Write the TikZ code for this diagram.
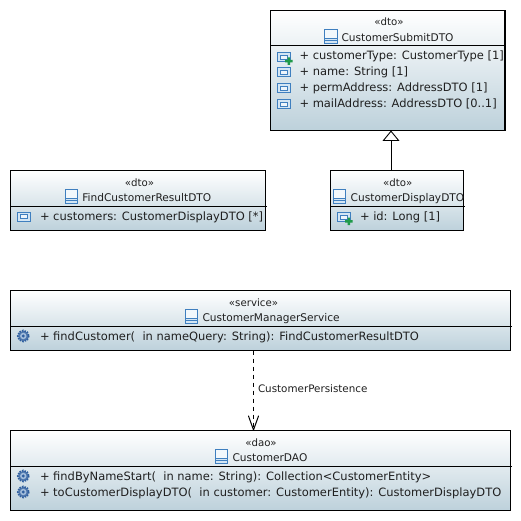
\documentclass[tikz,border=0pt]{standalone}
\usepackage{fontspec}
\setmainfont{DejaVu Sans}
\usetikzlibrary{arrows.meta,calc}
\definecolor{boxbottom}{HTML}{BDD1DB}
\definecolor{iconblue}{HTML}{3F7FBF}
\definecolor{iconfill}{HTML}{D4E6F4}
\definecolor{gearblue}{HTML}{2F5F9F}
\definecolor{plusgreen}{HTML}{1F9A4A}
\tikzset{
  umlbox/.style={draw=black,line width=1.2pt,top color=white,bottom color=boxbottom,inner sep=0pt,outer sep=0pt},
  divider/.style={draw=black,line width=1pt},
  txt/.style={anchor=base west,inner sep=0pt,outer sep=0pt,text=black!88,font=\fontsize{11.47}{13}\selectfont},
  ctxt/.style={anchor=base,inner sep=0pt,outer sep=0pt,text=black!88,font=\fontsize{10.2}{13}\selectfont},
  ntxt/.style={anchor=base west,inner sep=0pt,outer sep=0pt,text=black!88,font=\fontsize{10.6}{13}\selectfont},
  classicon/.pic={
    \draw[iconblue,line width=.9pt,fill=white!70!iconfill] (0,0) rectangle (12.5,14.5);
    \fill[iconfill] (0.5,9) rectangle (12,14);
    \draw[iconblue,line width=.9pt] (0,9) -- (12.5,9) (0,11.8) -- (12.5,11.8);
  },
  attricon/.pic={
    \draw[iconblue,line width=1pt,fill=iconfill] (0,0) rectangle (12.5,9);
    \draw[iconblue,line width=.7pt,fill=white!60!iconfill] (2.5,2.5) rectangle (10,6.5);
  },
  plusattricon/.pic={
    \draw[iconblue,line width=1pt,fill=iconfill] (0,0) rectangle (12.5,9);
    \draw[iconblue,line width=.7pt,fill=white!60!iconfill] (2.5,2.5) rectangle (10,6.5);
    \fill[plusgreen] (10,5) rectangle (12.5,12.5) (7.5,7.5) rectangle (15,10);
  },
  gearicon/.pic={
    \fill[gearblue!85!white] (0,0) circle (5.2);
    \draw[gearblue,line width=1.6pt,dash pattern=on 1.6pt off 1.1pt] (0,0) circle (5.6);
    \fill[iconfill!70!gearblue] (0,0) circle (3.2);
    \fill[gearblue] (0,0) circle (1.6);
  },
}
\begin{document}
\begin{tikzpicture}[x=1pt,y=-1pt]
\useasboundingbox (0,0) rectangle (521,521);
\fill[white] (0,0) rectangle (521,521);
% boxes
\node[umlbox,minimum width=234.5pt,minimum height=120pt] (submit) at (387.75,70.5) {};
\node[umlbox,minimum width=255pt,minimum height=60pt] (find) at (138,200.5) {};
\node[umlbox,minimum width=133pt,minimum height=60pt] (display) at (397,200.5) {};
\node[umlbox,minimum width=500pt,minimum height=60pt] (service) at (260.5,320.5) {};
\node[umlbox,minimum width=500pt,minimum height=80pt] (dao) at (260.5,470.5) {};
% dividers
\draw[divider] (270.5,46) -- (506,46);
\draw[divider] (10.5,206) -- (267,206);
\draw[divider] (330.5,206) -- (465,206);
\draw[divider] (10.5,326) -- (512,326);
\draw[divider] (10.5,466) -- (512,466);
% connectors
\draw[line width=.9pt,-{Triangle[open,length=10.5pt,width=17pt,line width=.9pt]}] ([xshift=-6pt]display.north) -- ([xshift=3.25pt]submit.south);
\draw[line width=.9pt,dash pattern=on 4.5pt off 3.5pt,-{Straight Barb[length=14pt,width=10pt,line width=1pt,round=false]}] ([xshift=-7pt]service.south) -- ([xshift=-7pt]dao.north);
\node[ntxt,font=\fontsize{10.35}{13}\selectfont] (lblpersist) at (258,392) {CustomerPersistence};
% CustomerSubmitDTO
\node[ctxt] (s1) at (389,25.5) {«dto»};
\pic at (324.5,29) {classicon};
\node[ntxt] (s2) at (341.5,41.5) {CustomerSubmitDTO};
\pic at (277.5,52.5) {plusattricon};
\pic at (277.5,68) {attricon};
\pic at (277.5,84) {attricon};
\pic at (277.5,100) {attricon};
\node[txt] (s3) at (299.5,60) {+ customerType: CustomerType [1]};
\node[txt] (s4) at (299.5,76) {+ name: String [1]};
\node[txt] (s5) at (299.5,92) {+ permAddress: AddressDTO [1]};
\node[txt] (s6) at (299.5,108) {+ mailAddress: AddressDTO [0..1]};
% FindCustomerResultDTO
\node[ctxt] (f1) at (139.5,186) {«dto»};
\pic at (65,189) {classicon};
\node[ntxt] (f2) at (82.3,201.5) {FindCustomerResultDTO};
\pic at (17.5,212) {attricon};
\node[txt] (f3) at (40,220) {+ customers: CustomerDisplayDTO [*]};
% CustomerDisplayDTO
\node[ctxt] (d1) at (397.7,186) {«dto»};
\pic at (333,189) {classicon};
\node[ntxt] (d2) at (350.7,201.5) {CustomerDisplayDTO};
\pic at (337.5,212.5) {plusattricon};
\node[txt] (d3) at (360,220) {+ id: Long [1]};
% CustomerManagerService
\node[ctxt] (m1) at (253.5,306) {«service»};
\pic at (185.3,309) {classicon};
\node[ntxt] (m2) at (202.5,321.5) {CustomerManagerService};
\pic at (23.3,336) {gearicon};
\node[txt] (m3) at (40,340) {+ findCustomer(\ \ in nameQuery: String): FindCustomerResultDTO};
% CustomerDAO
\node[ctxt] (o1) at (261,446) {«dao»};
\pic at (215,449) {classicon};
\node[ntxt] (o2) at (232.5,461.5) {CustomerDAO};
\pic at (23.3,476) {gearicon};
\pic at (23.3,492) {gearicon};
\node[txt] (o3) at (40,480) {+ findByNameStart(\ \ in name: String): Collection<CustomerEntity>};
\node[txt] (o4) at (40,496) {+ toCustomerDisplayDTO(\ \ in customer: CustomerEntity): CustomerDisplayDTO};
\end{tikzpicture}
\end{document}
